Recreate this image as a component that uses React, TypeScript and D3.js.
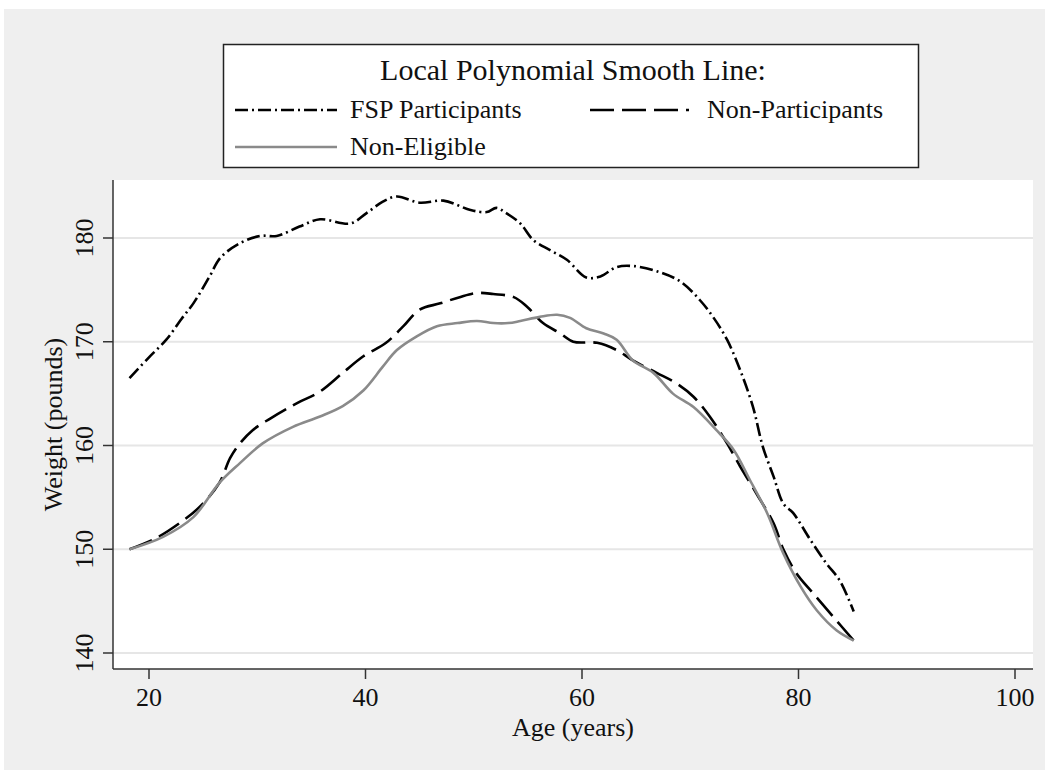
import React from "react";
import * as d3 from "d3";

const xTicks = [20, 40, 60, 80, 100];
const yTicks = [140, 150, 160, 170, 180];

const fspAges = [18.2, 20, 21.6, 23, 24.1, 25.6, 26.6, 28.4, 30.3, 31.8, 33.9, 35.8, 38.6, 40.1, 41.6, 42.9, 45.0, 47.2, 49.7, 51.2, 52.1, 53.0, 54.3, 55.5, 57.1, 58.6, 60.4, 61.7, 63.2, 64.7, 66.9, 69.1, 70.9, 72.1, 73.4, 74.6, 75.8, 76.7, 77.7, 78.6, 79.5, 81.1, 82.6, 83.8, 85.1];
const fspWeights = [166.5, 168.5, 170.2, 172.2, 173.7, 176.3, 178.1, 179.5, 180.2, 180.2, 181.1, 181.8, 181.4, 182.4, 183.5, 184.0, 183.4, 183.6, 182.7, 182.5, 182.9, 182.4, 181.4, 179.8, 178.8, 177.9, 176.2, 176.3, 177.2, 177.3, 176.8, 175.8, 174.0, 172.4, 170.2, 167.3, 163.7, 159.9, 157.0, 154.4, 153.5, 150.9, 148.6, 147.0, 144.0];

const nonPartAges = [18.2, 20.7, 22.8, 24.7, 26.5, 27.5, 28.4, 29.6, 31.2, 33.0, 33.9, 35.8, 37.9, 39.8, 41.9, 43.5, 45.0, 46.9, 48.7, 50.3, 51.8, 53.7, 54.9, 56.4, 58.0, 59.2, 61.4, 63.2, 64.7, 66.9, 68.7, 70.3, 71.8, 73.4, 74.6, 76.1, 77.7, 78.6, 79.8, 81.4, 83.2, 85.1];
const nonPartWeights = [150.0, 151.1, 152.5, 154.1, 156.4, 158.8, 160.2, 161.5, 162.6, 163.7, 164.2, 165.2, 167.0, 168.6, 169.9, 171.5, 173.1, 173.7, 174.3, 174.7, 174.6, 174.3, 173.4, 171.8, 170.8, 170.0, 169.9, 169.2, 168.2, 167.0, 166.0, 164.7, 162.8, 160.2, 158.0, 155.4, 152.5, 150.0, 147.7, 145.7, 143.5, 141.2];

const nonEligAges = [18.2, 21.3, 24.1, 26.5, 28.4, 30.5, 33.3, 35.8, 37.9, 39.8, 41.6, 42.9, 44.7, 46.6, 48.5, 50.3, 51.8, 53.2, 54.3, 56.1, 57.7, 58.9, 60.4, 62.0, 63.2, 64.7, 66.6, 68.4, 70.3, 72.4, 74.0, 75.5, 77.1, 78.6, 80.2, 81.7, 83.5, 85.1];
const nonEligWeights = [150.0, 151.2, 153.1, 156.4, 158.3, 160.2, 161.8, 162.8, 163.8, 165.3, 167.6, 169.2, 170.5, 171.5, 171.8, 172.0, 171.8, 171.8, 172.0, 172.4, 172.6, 172.3, 171.3, 170.8, 170.2, 168.2, 167.0, 165.0, 163.7, 161.5, 159.6, 156.7, 153.5, 149.6, 146.4, 144.1, 142.2, 141.2];

const legendTitle = "Local Polynomial Smooth Line:";
const seriesNames = ["FSP Participants", "Non-Participants", "Non-Eligible"];

const FONT = "'Liberation Serif', 'Times New Roman', serif";

export default function App() {
  const plotLeft = 113, plotRight = 1033, plotTop = 180, plotBottom = 669;
  const x = d3.scaleLinear().domain([20, 100]).range([149, 1015]);
  const y = d3.scaleLinear().domain([140, 180]).range([653, 238]);

  const line = d3
    .line<[number, number]>()
    .x((d) => x(d[0]))
    .y((d) => y(d[1]))
    .curve(d3.curveCatmullRom.alpha(0.5));

  const zip = (a: number[], b: number[]) => a.map((v, i) => [v, b[i]] as [number, number]);

  const series = [
    { name: seriesNames[0], d: line(zip(fspAges, fspWeights)), stroke: "#000", dash: "13,4,2,4" },
    { name: seriesNames[1], d: line(zip(nonPartAges, nonPartWeights)), stroke: "#000", dash: "24,8" },
    { name: seriesNames[2], d: line(zip(nonEligAges, nonEligWeights)), stroke: "#8a8a8a", dash: undefined },
  ];

  const legendItems = [
    { s: series[0], x1: 235, x2: 337, y: 110, tx: 350 },
    { s: series[1], x1: 590, x2: 689, y: 110, tx: 707 },
    { s: series[2], x1: 235, x2: 337, y: 147, tx: 350 },
  ];

  return (
    <svg
      width={1045}
      height={770}
      style={{ position: "absolute", left: 0, top: 0 }}
      fontFamily={FONT}
    >
      <rect x={0} y={0} width={1045} height={770} fill="#ffffff" />
      <rect x={4} y={9} width={1041} height={761} fill="#efefef" />
      <rect x={plotLeft} y={plotTop} width={plotRight - plotLeft} height={plotBottom - plotTop} fill="#ffffff" />

      {yTicks.map((t) => (
        <line key={"g" + t} x1={plotLeft} x2={plotRight} y1={y(t)} y2={y(t)} stroke="#e6e6e6" strokeWidth={2} />
      ))}

      {series.map((s) => (
        <path
          key={s.name}
          d={s.d || ""}
          fill="none"
          stroke={s.stroke}
          strokeWidth={2.6}
          strokeDasharray={s.dash}
          strokeLinejoin="round"
        />
      ))}

      {/* axes */}
      <line x1={plotLeft} x2={plotLeft} y1={plotTop} y2={plotBottom} stroke="#333" strokeWidth={1.5} />
      <line x1={plotLeft} x2={plotRight} y1={plotBottom} y2={plotBottom} stroke="#333" strokeWidth={1.5} />

      {yTicks.map((t) => (
        <g key={"yt" + t}>
          <line x1={plotLeft - 10} x2={plotLeft} y1={y(t)} y2={y(t)} stroke="#333" strokeWidth={1.5} />
          <text
            transform={`translate(93,${y(t)}) rotate(-90)`}
            textAnchor="middle"
            fontSize={26}
            fill="#111"
          >
            {t}
          </text>
        </g>
      ))}
      {xTicks.map((t) => (
        <g key={"xt" + t}>
          <line x1={x(t)} x2={x(t)} y1={plotBottom} y2={plotBottom + 10} stroke="#333" strokeWidth={1.5} />
          <text x={x(t)} y={706} textAnchor="middle" fontSize={26} fill="#111">
            {t}
          </text>
        </g>
      ))}

      <text x={(plotLeft + plotRight) / 2} y={736} textAnchor="middle" fontSize={26} fill="#111">
        Age (years)
      </text>
      <text
        transform={`translate(62,${(plotTop + plotBottom) / 2}) rotate(-90)`}
        textAnchor="middle"
        fontSize={26}
        fill="#111"
      >
        Weight (pounds)
      </text>

      {/* legend */}
      <rect x={223.5} y={44.5} width={695} height={123} fill="#ffffff" stroke="#222" strokeWidth={1.5} />
      <text x={573} y={80} textAnchor="middle" fontSize={30} fill="#111">
        {legendTitle}
      </text>
      {legendItems.map((it) => (
        <g key={"l" + it.s.name}>
          <line
            x1={it.x1}
            x2={it.x2}
            y1={it.y}
            y2={it.y}
            stroke={it.s.stroke}
            strokeWidth={2.6}
            strokeDasharray={it.s.dash}
          />
          <text x={it.tx} y={it.y + 8} fontSize={26} fill="#111">
            {it.s.name}
          </text>
        </g>
      ))}
    </svg>
  );
}
